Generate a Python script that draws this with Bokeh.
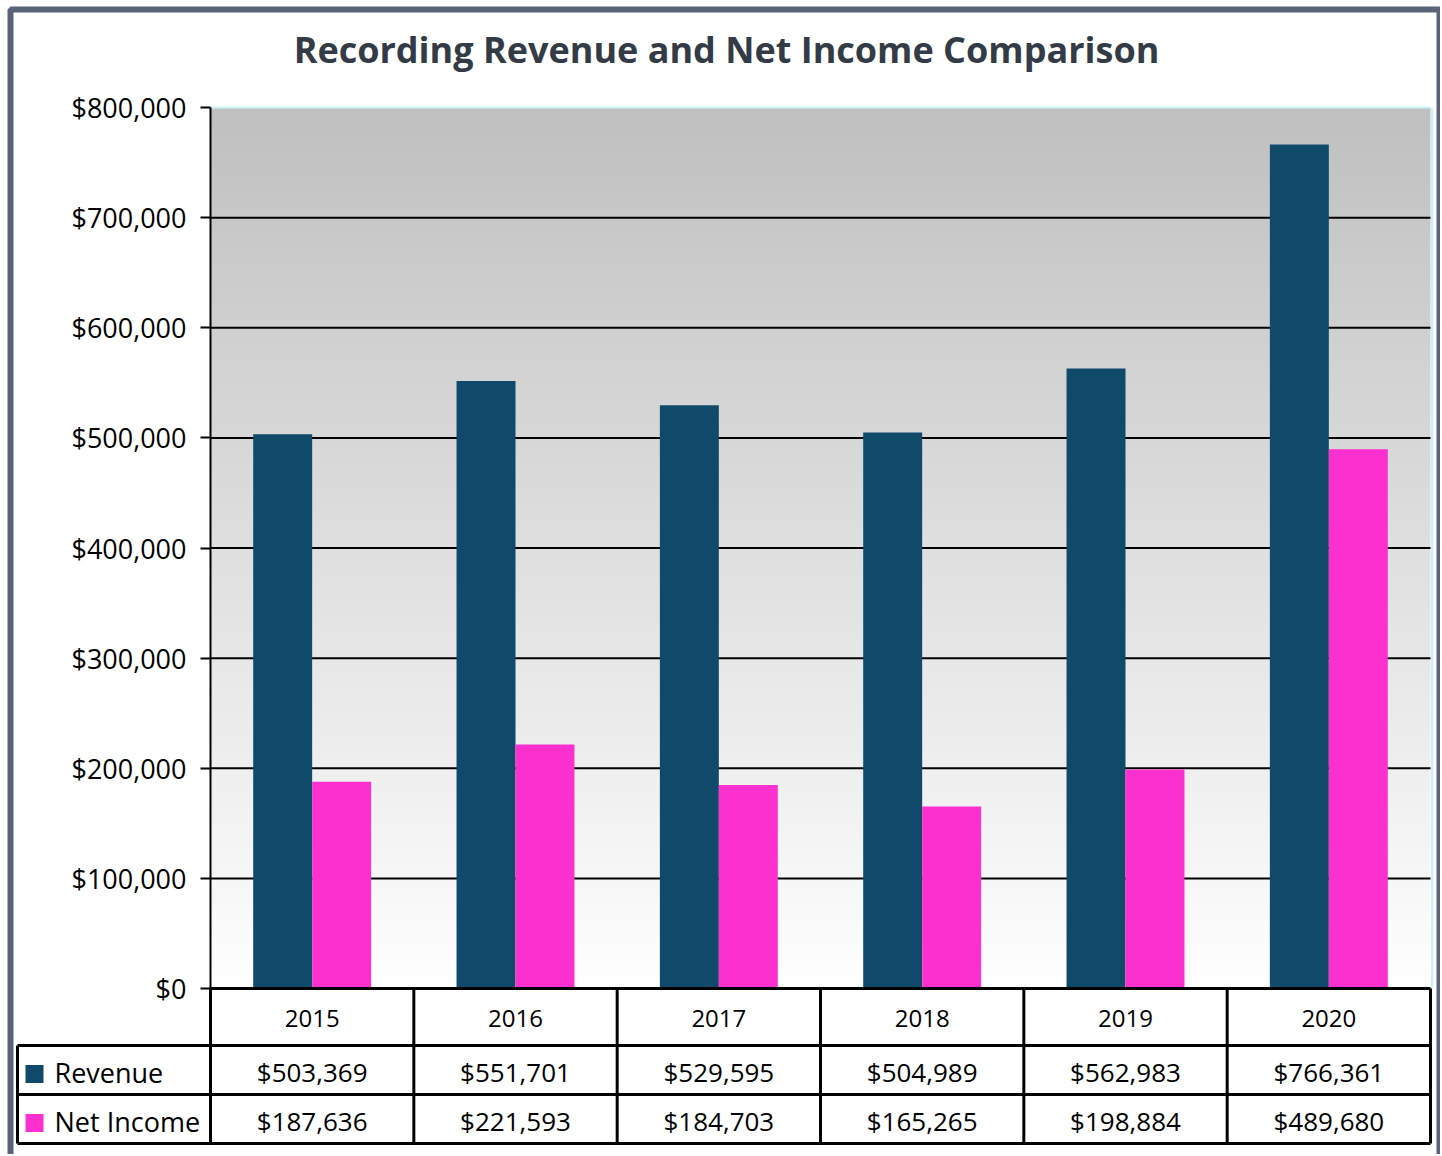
import numpy as np
from bokeh.plotting import figure
from bokeh.models import Range1d, FixedTicker, NumeralTickFormatter, LinearAxis
from bokeh.embed import file_html
from bokeh.resources import INLINE
from bokeh.core.properties import value

# ---------------- data ----------------
years = ["2015", "2016", "2017", "2018", "2019", "2020"]
revenue = [503369, 551701, 529595, 504989, 562983, 766361]
net_income = [187636, 221593, 184703, 165265, 198884, 489680]
series_names = ["Revenue", "Net Income"]
y_ticks = [0, 100000, 200000, 300000, 400000, 500000, 600000, 700000, 800000]
title_text = "Recording Revenue and Net Income Comparison"

# ---------------- style ----------------
REV_COLOR = "#0f4a6b"
NET_COLOR = "#fc30cf"
BORDER_COLOR = "#59637a"
FONT = "Open Sans"

# layout constants (page pixels)
OFF = 0                  # page offset of the canvas
W, H = 1440, 1154
PL, PR = 210, 1430       # plot area left / right
PT, P0 = 107, 988        # plot top (max tick) / zero line
R1, R2, R3 = 1045, 1094, 1143   # table row lines
TL = 17                  # table left edge
n = len(years)
CW = (PR - PL) / n
YMAX = y_ticks[-1]
ppu = (P0 - PT) / YMAX
BW = 0.29
xc = np.arange(n) + 0.5


def px2x(px):
    return (px - PL) / CW


def py2y(py):
    return (P0 - py) / ppu


p = figure(width=W, height=H,
           x_range=Range1d(px2x(OFF), px2x(OFF + W)),
           y_range=Range1d(py2y(OFF + H), py2y(OFF)),
           x_axis_location=None, y_axis_location=None,
           output_backend="svg", toolbar_location=None,
           min_border=0, min_border_left=0, min_border_right=0,
           min_border_top=0, min_border_bottom=0,
           background_fill_color="white", border_fill_color="white",
           outline_line_color=None)
p.xgrid.visible = False
p.ygrid.visible = False

# gradient background of the plot area
N = 256
vals = np.linspace(255, 192, N).astype(np.uint8)
img = np.empty((N, 1), dtype=np.uint32)
view = img.view(dtype=np.uint8).reshape((N, 1, 4))
view[:, 0, 0] = vals
view[:, 0, 1] = vals
view[:, 0, 2] = vals
view[:, 0, 3] = 255
p.image_rgba(image=[img], x=0, y=0, dw=n, dh=YMAX)

# light outline of plot area
p.segment(x0=[0, px2x(PR + 1.5)], y0=[YMAX, 0], x1=[n, px2x(PR + 1.5)], y1=[YMAX, YMAX],
          line_color="#c9f3f3", line_width=2)

# grid lines
grid_vals = y_ticks[1:-1]
p.segment(x0=[0] * len(grid_vals), y0=grid_vals, x1=[n] * len(grid_vals), y1=grid_vals,
          line_color="black", line_width=2)

# bars
p.vbar(x=xc - BW / 2, top=revenue, bottom=0, width=BW, fill_color=REV_COLOR, line_color=None)
p.vbar(x=xc + BW / 2, top=net_income, bottom=0, width=BW, fill_color=NET_COLOR, line_color=None)

# y axis at the plot-area's left edge
ax = LinearAxis(fixed_location=0)
ax.bounds = (py2y(R3), YMAX)
ax.ticker = FixedTicker(ticks=y_ticks)
ax.formatter = NumeralTickFormatter(format="$0,0")
ax.major_label_text_font = FONT
ax.major_label_text_font_size = "27px"
ax.major_label_text_color = "black"
ax.major_tick_out = 10
ax.major_tick_in = 0
ax.minor_tick_line_color = None
ax.axis_line_width = 2
ax.axis_line_color = "black"
ax.major_tick_line_width = 2
ax.major_tick_line_color = "black"
ax.major_label_standoff = 14
p.add_layout(ax, "left")

# data table
yb = py2y(R3)
p.segment(x0=[0], y0=[0], x1=[n], y1=[0], line_color="black", line_width=3)
rows_y = [py2y(R1), py2y(R2), py2y(R3)]
p.segment(x0=[px2x(TL)] * 3, y0=rows_y, x1=[n] * 3, y1=rows_y, line_color="black", line_width=3)
cols = list(range(0, n + 1))
p.segment(x0=cols, y0=[0] * len(cols), x1=cols, y1=[yb] * len(cols), line_color="black", line_width=3)
p.segment(x0=[px2x(TL)], y0=[py2y(R1)], x1=[px2x(TL)], y1=[yb], line_color="black", line_width=3)

p.text(x=xc, y=[py2y(1018)] * n, text=years, text_align="center", text_baseline="middle",
       text_font=value(FONT), text_font_size="24px", text_color="black")

row_mid = [py2y((R1 + R2) / 2 + 2), py2y((R2 + R3) / 2 + 2)]
p.scatter(x=[px2x(34)] * 2, y=[py2y((R1 + R2) / 2 + 4), py2y((R2 + R3) / 2 + 4)], marker="square",
          size=18, fill_color=[REV_COLOR, NET_COLOR], line_color=None)
p.text(x=[px2x(54)] * 2, y=row_mid, text=series_names, text_align="left",
       text_baseline="middle", text_font=value(FONT), text_font_size="27px", text_color="black")
p.text(x=xc, y=[row_mid[0]] * n, text=["${:,}".format(v) for v in revenue], text_align="center",
       text_baseline="middle", text_font=value(FONT), text_font_size="26px", text_color="black")
p.text(x=xc, y=[row_mid[1]] * n, text=["${:,}".format(v) for v in net_income], text_align="center",
       text_baseline="middle", text_font=value(FONT), text_font_size="26px", text_color="black")

# title
p.text(x=[px2x(726)], y=[py2y(49)], text=[title_text], text_align="center", text_baseline="middle",
       text_font=value(FONT), text_font_size="36px", text_font_style="bold", text_color="#333b46")

# outer chart border
p.quad(left=[px2x(10)], right=[px2x(1439)], top=[py2y(9)], bottom=[py2y(1200)],
       fill_color=None, line_color=BORDER_COLOR, line_width=6)

open("out.html", "w").write(file_html(p, INLINE))
